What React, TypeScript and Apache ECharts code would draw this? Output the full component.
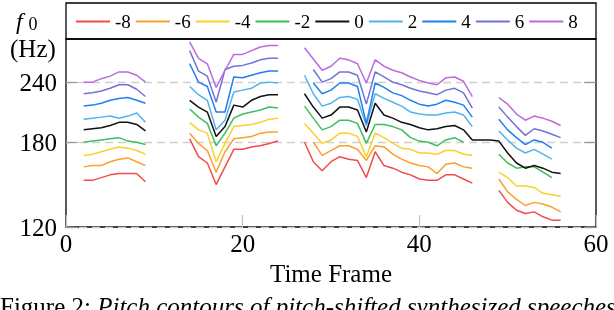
import React, { useEffect, useRef } from "react";
import * as echarts from "echarts";

const FONT = "'Liberation Serif', 'Times New Roman', serif";

// time frames 2..56
const FRAMES = [
  2, 3, 4, 5, 6, 7, 8, 9, 10, 11, 12, 13, 14, 15, 16, 17, 18, 19, 20, 21, 22, 23, 24, 25, 26, 27, 28, 29,
  30, 31, 32, 33, 34, 35, 36, 37, 38, 39, 40, 41, 42, 43, 44, 45, 46, 47, 48, 49, 50, 51, 52, 53, 54, 55, 56,
];

const N = null;
// f0 values (Hz) per frame, null = unvoiced
const SHIFT_M8 = [
  150, 150, 152, 154, 155, 155, 155, 149, N, N, N, N,
  183, 168, 163, 147, 160, 174, 174, 176, 177, 179, 181, N, N,
  180, 164, 157, 164, 168, 166, 165, 152, 172, 161, 159, 156, 154, 151, 150, 150, 154, 154, 151, 148, N, N,
  143, 135, 130, 128, 129, 126, 124, 124,
];
const SHIFT_M6 = [
  160, 161, 161, 164, 166, 167, 164, 161, N, N, N, N,
  188, 179, 173, 156, 172, 183, 184, 185, 188, 189, 189, N, N,
  N, 180, 169, 173, 177, 177, 174, 165, 177, 176, 170, 166, 163, 161, 160, 155, 162, 163, 160, 159, N, N,
  151, 142, 137, 133, 135, 134, 132, 129,
];
const SHIFT_M4 = [
  169, 170, 172, 174, 176, 175, 173, 170, N, N, N, N,
  198, 191, 188, 164, 179, 194, 195, 196, 198, 201, 202, N, N,
  197, 188, 179, 182, 188, 188, 185, 168, 188, 184, 179, 175, 174, 171, 171, 170, 173, 173, 170, 169, N, N,
  156, 152, 146, 146, 145, 141, 140, 139,
];
const SHIFT_M2 = [
  180, 181, 182, 183, 184, 181, 180, 178, N, N, N, N,
  211, 203, 197, 177, 188, 202, 206, 208, 210, 213, 212, N, N,
  214, 202, 191, 194, 200, 200, 197, 179, 196, 196, 194, 191, 184, 181, 180, 177, 182, 184, 180, N, N, N,
  170, 163, 159, 160, 160, 156, 152, N,
];
const SHIFT_0 = [
  191, 192, 193, 195, 198, 198, 196, 190, N, N, N, N,
  220, 213, 208, 185, 194, 215, 213, 220, 224, 226, 226, N, N,
  227, 213, 202, 205, 213, 213, 210, 189, 217, 205, 202, 198, 196, 193, 191, 192, 194, 195, 191, 182, 182, 182,
  181, 171, 163, 159, 161, 159, 156, 155,
];
const SHIFT_P2 = [
  201, 202, 203, 204, 202, 204, 207, 198, N, N, N, N,
  235, 226, 220, 191, 200, 229, 231, 233, 239, 240, 239, N, N,
  248, 227, 214, 217, 223, 224, 221, 195, 227, 222, 218, 214, 208, 206, 205, 205, 207, 208, 205, 194, N, N,
  190, 182, 175, 171, 174, 170, 166, N,
];
const SHIFT_P4 = [
  214, 215, 217, 220, 222, 223, 220, 217, N, N, N, N,
  262, 240, 235, 208, 208, 246, 245, 248, 251, 253, 253, N, N,
  N, 239, 227, 231, 239, 239, 235, 197, 239, 234, 228, 225, 220, 216, 214, 216, 220, 218, 215, 203, N, N,
  201, 191, 184, 178, 182, 180, 175, N,
];
const SHIFT_P6 = [
  227, 228, 230, 233, 237, 237, 232, 224, N, N, N, N,
  279, 253, 247, 218, 255, 259, 260, 263, 267, 269, 269, N, N,
  N, 255, 240, 244, 252, 252, 248, 216, 252, 246, 240, 237, 233, 230, 228, 226, 231, 233, 228, 212, N, N,
  213, 203, 194, 186, 192, 190, 187, 184,
];
const SHIFT_P8 = [
  240, 240, 244, 247, 252, 252, 248, 240, N, N, N, N,
  291, 269, 262, 234, 254, 274, 274, 279, 284, 286, 286, N, N,
  283, 268, 254, 259, 269, 267, 262, 239, 267, 259, 254, 251, 246, 242, 239, 237, 245, 246, 241, 224, N, N,
  223, 216, 206, 200, 204, 202, 199, 195,
];

const SERIES_NAMES = ["-8", "-6", "-4", "-2", "0", "2", "4", "6", "8"];
const SERIES_VALUES = [SHIFT_M8, SHIFT_M6, SHIFT_M4, SHIFT_M2, SHIFT_0, SHIFT_P2, SHIFT_P4, SHIFT_P6, SHIFT_P8];
const COLORS = ["#f24b4b", "#f9a02e", "#fcd02a", "#3fbe5c", "#111111", "#52b3ec", "#1f7ff0", "#7272d8", "#bb6ae2"];

const X_TICKS = [0, 20, 40, 60];
const Y_TICKS = [120, 180, 240];

export default function App() {
  const ref = useRef<HTMLDivElement>(null);
  useEffect(() => {
    if (!ref.current) return;
    const chart = echarts.init(ref.current, null, { renderer: "svg" });
    const series = SERIES_NAMES.map((name, i) => ({
      name,
      type: "line",
      symbol: "none",
      connectNulls: false,
      lineStyle: { color: COLORS[i], width: 1.5 },
      itemStyle: { color: COLORS[i] },
      data: FRAMES.map((t, k) => [t, SERIES_VALUES[i][k] == null ? "-" : SERIES_VALUES[i][k]]),
      z: 3,
    }));
    const yCommon = {
      type: "log",
      logBase: 10,
      min: 120,
      max: 295,
      axisLine: { show: false },
      minorTick: { show: false },
      minorSplitLine: { show: false },
    };
    chart.setOption({
      animation: false,
      textStyle: { fontFamily: FONT },
      grid: {
        left: 66,
        right: 18,
        top: 39,
        bottom: 83,
        show: true,
        borderColor: "#000",
        borderWidth: 1.3,
        backgroundColor: "transparent",
        containLabel: false,
        outerBoundsMode: "none",
      },
      legend: {
        left: 76,
        top: 12,
        padding: 0,
        icon: "rect",
        itemWidth: 34,
        itemHeight: 2,
        itemGap: 5,
        data: SERIES_NAMES,
        textStyle: { fontSize: 19, color: "#000", fontFamily: FONT },
      },
      xAxis: {
        type: "value",
        min: X_TICKS[0],
        max: X_TICKS[X_TICKS.length - 1],
        interval: 20,
        axisLine: { show: false },
        axisTick: { show: true, inside: true, length: 12, lineStyle: { color: "#c4c4c4", width: 1.2 } },
        splitLine: { show: false },
        axisLabel: { fontSize: 25, color: "#000", margin: 4, fontFamily: FONT },
        name: "Time Frame",
        nameLocation: "middle",
        nameGap: 34,
        nameTextStyle: { fontSize: 25, color: "#000", fontFamily: FONT },
      },
      yAxis: [
        {
          ...yCommon,
          axisTick: { show: true, inside: true, length: 12, customValues: Y_TICKS, lineStyle: { color: "#999", width: 1.2 } },
          axisLabel: { customValues: Y_TICKS, fontSize: 25, color: "#000", margin: 9, fontFamily: FONT },
          splitLine: { show: true, lineStyle: { type: [8, 5], color: "#cfcfcf", width: 1.3 } },
        },
        {
          ...yCommon,
          position: "right",
          axisTick: { show: true, inside: true, length: 12, customValues: Y_TICKS, lineStyle: { color: "#999", width: 1.2 } },
          axisLabel: { show: false },
          splitLine: { show: false },
        },
      ],
      series,
      graphic: [
        {
          type: "rect",
          shape: { x: 66, y: 3, width: 530, height: 36 },
          style: { fill: "none", stroke: "#000", lineWidth: 1.3 },
          z: 10,
        },
        {
          type: "text",
          x: 16,
          y: 21,
          style: { text: "f", fontSize: 24, fontStyle: "italic", fontFamily: FONT, fill: "#000", verticalAlign: "middle" },
        },
        {
          type: "text",
          x: 28.5,
          y: 24,
          style: { text: "0", fontSize: 18, fontFamily: FONT, fill: "#000", verticalAlign: "middle" },
        },
        {
          type: "text",
          x: 10,
          y: 48,
          style: { text: "(Hz)", fontSize: 25, fontFamily: FONT, fill: "#000", verticalAlign: "middle" },
        },
        {
          type: "text",
          x: 0,
          y: 306,
          style: {
            text: "{r|Figure 2: }{i|Pitch contours of pitch-shifted synthesized speeches}",
            verticalAlign: "middle",
            rich: {
              r: { fontSize: 25, fontFamily: FONT, fill: "#000" },
              i: { fontSize: 25, fontFamily: FONT, fontStyle: "italic", fill: "#000" },
            },
          },
        },
      ],
    });
    return () => chart.dispose();
  }, []);
  return <div ref={ref} style={{ position: "fixed", left: 0, top: 0, width: 614, height: 310 }} />;
}
